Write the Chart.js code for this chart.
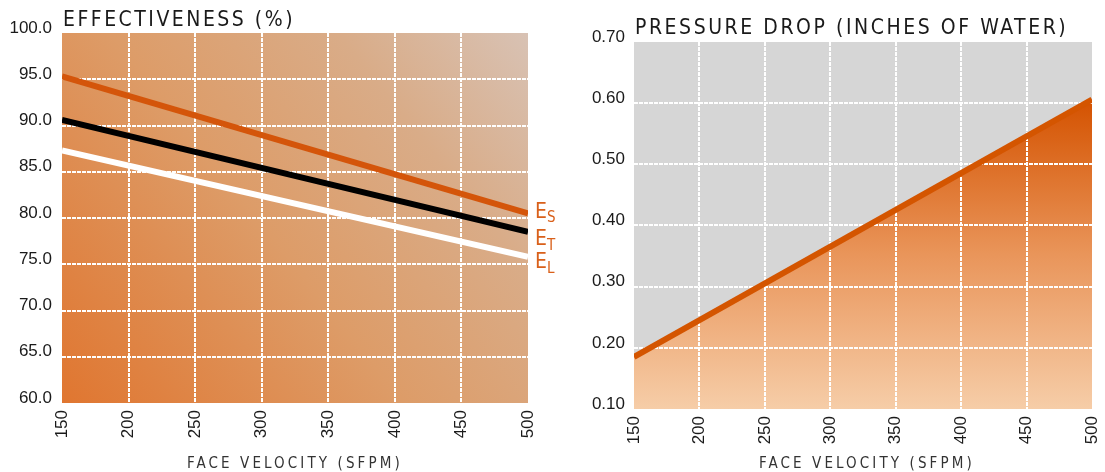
<!DOCTYPE html>
<html><head><meta charset="utf-8">
<script src="https://cdn.jsdelivr.net/npm/chart.js@4"></script>
<style>
html,body{margin:0;padding:0;background:#fff;width:1105px;height:472px;overflow:hidden;position:relative}
canvas{position:absolute;top:0}
.t{position:absolute;font-family:"Liberation Sans Narrow","DejaVu Sans Condensed","Arial Narrow",sans-serif;color:#1a1a1a;white-space:nowrap}
</style></head><body>
<canvas id="left" width="560" height="472" style="left:0"></canvas>
<canvas id="right" width="545" height="472" style="left:560px"></canvas>
<div class="t" style="left:63px;top:9px;font-size:21px;line-height:21px;letter-spacing:2.5px">EFFECTIVENESS (%)</div>
<div class="t" style="left:635px;top:17px;font-size:21px;line-height:21px;letter-spacing:2.55px">PRESSURE DROP (INCHES OF WATER)</div>
<div class="t" style="left:187px;top:456px;font-size:15px;line-height:15px;letter-spacing:3.1px;color:#333">FACE VELOCITY (SFPM)</div>
<div class="t" style="left:759px;top:456px;font-size:15px;line-height:15px;letter-spacing:3.1px;color:#333">FACE VELOCITY (SFPM)</div>
<script>
// ---- data ----
const velocity = [150, 500];                 // face velocity (SFPM)
const effS = [95.3, 80.5];                   // E_S effectiveness (%)
const effT = [90.6, 78.5];                   // E_T effectiveness (%)
const effL = [87.3, 75.8];                   // E_L effectiveness (%)
const pressure = [0.185, 0.606];             // pressure drop (in. of water)
const velocityTicks = [150, 200, 250, 300, 350, 400, 450, 500];
const effTicks = [60, 65, 70, 75, 80, 85, 90, 95, 100];
const pressureTicks = [0.1, 0.2, 0.3, 0.4, 0.5, 0.6, 0.7];
const effLabels = [["E", "S"], ["E", "T"], ["E", "L"]];

const pts = (xs, ys) => xs.map((x, i) => ({x, y: ys[i]}));
const tickFont = {family: '"Liberation Sans", Arial, sans-serif', size: 17};

function gridColor(list) {
  return ctx => {
    const v = ctx.tick ? ctx.tick.value : null;
    if (v === list[0] || v === list[list.length - 1]) return 'rgba(0,0,0,0)';
    return '#ffffff';
  };
}

function xScale(h) {
  return {
    type: 'linear', min: 150, max: 500,
    afterBuildTicks: s => { s.ticks = velocityTicks.map(v => ({value: v})); },
    afterFit: s => { s.height = h; s.paddingLeft = 0; s.paddingRight = 0; },
    ticks: {minRotation: 90, maxRotation: 90, padding: 7, color: '#1a1a1a', font: tickFont,
            callback: v => String(v)},
    grid: {color: gridColor(velocityTicks), lineWidth: 2, drawTicks: false},
    border: {display: false, dash: [4, 1]}
  };
}

function yScale(list, w, dec, pad) {
  return {
    type: 'linear', min: list[0], max: list[list.length - 1],
    afterBuildTicks: s => { s.ticks = list.map(v => ({value: v})); },
    afterFit: s => { s.width = w; s.paddingTop = 0; s.paddingBottom = 0; },
    ticks: {padding: pad, labelOffset: -5, color: '#1a1a1a', font: tickFont,
            callback: v => Number(v).toFixed(dec)},
    grid: {color: gridColor(list), lineWidth: 2, drawTicks: false},
    border: {display: false, dash: [4, 1]}
  };
}

const leftBg = {
  id: 'leftBg',
  beforeDraw(chart) {
    const {ctx, chartArea: a} = chart;
    const g = ctx.createLinearGradient(a.left, a.bottom, a.right, a.top);
    g.addColorStop(0, '#e07630');
    g.addColorStop(0.45, '#dd9c68');
    g.addColorStop(0.75, '#d9ac88');
    g.addColorStop(1, '#d8c2b4');
    ctx.save(); ctx.fillStyle = g; ctx.fillRect(a.left, a.top, a.width, a.height); ctx.restore();
  }
};

const effLabelPlugin = {
  id: 'effLabels',
  afterDatasetsDraw(chart) {
    const {ctx, chartArea: a} = chart;
    const dy = [-1, 8, 6];
    ctx.save();
    ctx.fillStyle = '#d9601a';
    ctx.textBaseline = 'middle';
    chart.data.datasets.forEach((ds, i) => {
      const meta = chart.getDatasetMeta(i);
      const p = meta.data[meta.data.length - 1];
      const x = a.right + 7, y = p.y + dy[i];
      ctx.font = '21px "Liberation Sans Narrow","DejaVu Sans Condensed",sans-serif';
      ctx.fillText(effLabels[i][0], x, y);
      const w = ctx.measureText(effLabels[i][0]).width;
      ctx.font = '15px "Liberation Sans Narrow","DejaVu Sans Condensed",sans-serif';
      ctx.fillText(effLabels[i][1], x + w, y + 6);
    });
    ctx.restore();
  }
};

new Chart(document.getElementById('left'), {
  type: 'line',
  data: {datasets: [
    {label: 'E_S', data: pts(velocity, effS), borderColor: '#d4550a', borderWidth: 6},
    {label: 'E_T', data: pts(velocity, effT), borderColor: '#000000', borderWidth: 6},
    {label: 'E_L', data: pts(velocity, effL), borderColor: '#ffffff', borderWidth: 6}
  ]},
  options: {
    responsive: false, animation: false, devicePixelRatio: 1,
    layout: {padding: {top: 33, right: 32, left: 0, bottom: 0}},
    elements: {point: {radius: 0}, line: {tension: 0, fill: false, borderCapStyle: 'butt'}},
    plugins: {legend: {display: false}, tooltip: {enabled: false}},
    scales: {x: xScale(69), y: yScale(effTicks, 62, 1, 10)}
  },
  plugins: [leftBg, effLabelPlugin]
});

const rightBg = {
  id: 'rightBg',
  beforeDraw(chart) {
    const {ctx, chartArea: a} = chart;
    ctx.save();
    ctx.fillStyle = '#d6d6d6';
    ctx.fillRect(a.left, a.top, a.width, a.height);
    const meta = chart.getDatasetMeta(0);
    const ys = meta.data.map(p => p.y);
    const g = ctx.createLinearGradient(0, Math.min(...ys), 0, a.bottom);
    g.addColorStop(0, '#d45200');
    g.addColorStop(0.5, '#e9955a');
    g.addColorStop(1, '#f6cda8');
    ctx.beginPath();
    ctx.moveTo(meta.data[0].x, a.bottom);
    meta.data.forEach(p => ctx.lineTo(p.x, p.y));
    ctx.lineTo(meta.data[meta.data.length - 1].x, a.bottom);
    ctx.closePath();
    ctx.fillStyle = g;
    ctx.fill();
    ctx.restore();
  }
};

new Chart(document.getElementById('right'), {
  type: 'line',
  data: {datasets: [
    {label: 'Pressure drop', data: pts(velocity, pressure), borderColor: '#d45500', borderWidth: 6}
  ]},
  options: {
    responsive: false, animation: false, devicePixelRatio: 1,
    layout: {padding: {top: 42, right: 13, left: 0, bottom: 0}},
    elements: {point: {radius: 0}, line: {tension: 0, fill: false, borderCapStyle: 'butt'}},
    plugins: {legend: {display: false}, tooltip: {enabled: false}},
    scales: {x: xScale(63), y: yScale(pressureTicks, 74, 2, 9)}
  },
  plugins: [rightBg]
});
</script>
</body></html>
